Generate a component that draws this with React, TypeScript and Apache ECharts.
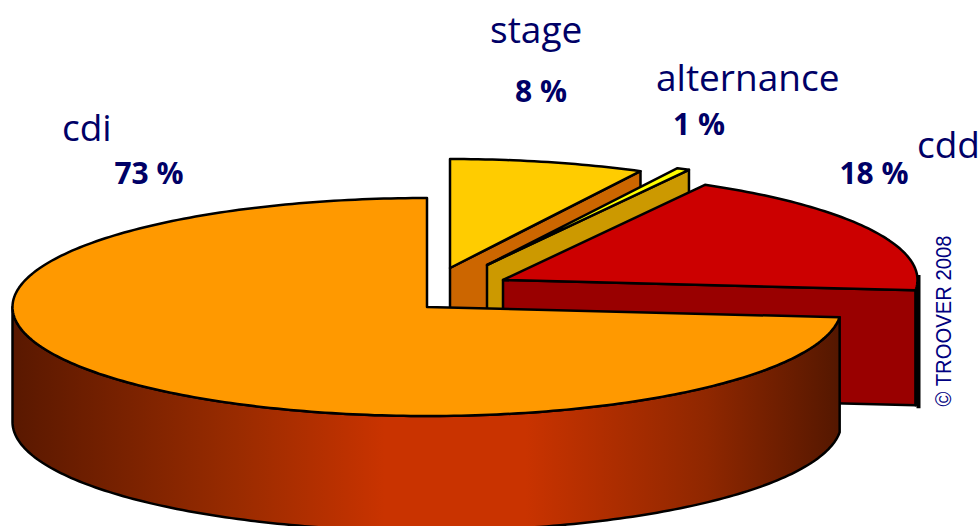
import React, { useEffect, useRef } from "react";
import * as echarts from "echarts";

const categories = ["stage", "alternance", "cdd", "cdi"];
const values = [7.6, 0.5, 18.4, 73.5];
const percentLabels = ["8 %", "1 %", "18 %", "73 %"];
const topColors = ["#FFCC00", "#FFFF00", "#CC0000", "#FF9900"];
const faceColors = ["#CC6600", "#CC9900", "#990000", "#990000"];
const explodeX = [22, 59, 75, -1];
const explodeY = [-39, -42, -27, 0];
const nameX = [490, 656, 917, 62];
const nameY = [28, 76, 143, 126];
const pctX = [541, 699, 874, 149];
const pctY = [90, 123, 172, 172];
const copyright = "© TROOVER 2008";

const CX = 428;
const CY = 307;
const RX = 414.5;
const RY = 109;
const DEPTH = 115;
const total = values.reduce((s, v) => s + v, 0);
const rad = (d: number) => (d * Math.PI) / 180;

const sideGradient = () =>
  new echarts.graphic.LinearGradient(0, 0, 1, 0, [
    { offset: 0, color: "#591800" },
    { offset: 0.27, color: "#992B00" },
    { offset: 0.45, color: "#C93300" },
    { offset: 0.62, color: "#C93300" },
    { offset: 0.84, color: "#8F2700" },
    { offset: 1, color: "#541700" },
  ]);

const renderSlice = (params: any, api: any) => {
  const i = params.dataIndex;
  const before = values.slice(0, i).reduce((s, v) => s + v, 0);
  const a = (before / total) * 360;
  const b = a + (api.value(0) / total) * 360;
  const cx = CX + explodeX[i];
  const cy = CY + explodeY[i];
  const P = (t: number, d = 0) => [cx + RX * Math.sin(rad(t)), cy - RY * Math.cos(rad(t)) + d];
  const arc = (s: number, e: number, d = 0) => {
    const pts: number[][] = [];
    const n = Math.max(2, Math.ceil(Math.abs(e - s)));
    for (let k = 0; k <= n; k++) pts.push(P(s + ((e - s) * k) / n, d));
    return pts;
  };
  const stroke = { stroke: "#000", lineWidth: 2.5, lineJoin: "round" };
  const children: any[] = [];
  if (b < 180) {
    children.push({
      type: "polygon",
      shape: { points: [[cx, cy], P(b), P(b, DEPTH), [cx, cy + DEPTH]] },
      style: { fill: faceColors[i], ...stroke },
    });
  }
  const s = Math.max(a, 90);
  const e = Math.min(b, 270);
  if (e > s) {
    children.push({
      type: "polygon",
      shape: { points: [...arc(s, e), ...arc(e, s, DEPTH)] },
      style: { fill: i === 3 ? sideGradient() : faceColors[i], ...stroke },
    });
  }
  if (i === 2) {
    children.push({
      type: "line",
      shape: { x1: cx + RX + 1, y1: cy - 5, x2: cx + RX + 1, y2: P(b, DEPTH)[1] + 3 },
      style: { stroke: "#000", lineWidth: 4 },
    });
  }
  children.push({
    type: "polygon",
    shape: { points: [[cx, cy], ...arc(a, b)] },
    style: { fill: topColors[i], ...stroke },
  });
  return { type: "group", children };
};

export default function App() {
  const ref = useRef<HTMLDivElement>(null);
  useEffect(() => {
    const chart = echarts.init(ref.current!, null, { renderer: "svg" });
    const texts: any[] = [];
    categories.forEach((c, i) => {
      texts.push({
        type: "text",
        x: nameX[i],
        y: nameY[i],
        style: {
          text: c,
          font: '37px "Open Sans"',
          fill: "#000066",
          textVerticalAlign: "middle",
        },
      });
      texts.push({
        type: "text",
        x: pctX[i],
        y: pctY[i],
        style: {
          text: percentLabels[i],
          font: 'bold 30px "Open Sans"',
          fill: "#000066",
          textAlign: "center",
          textVerticalAlign: "middle",
        },
      });
    });
    texts.push({
      type: "text",
      x: 943,
      y: 321,
      rotation: Math.PI / 2,
      scaleX: 0.92,
      style: {
        text: copyright,
        font: '22px "Liberation Sans"',
        fill: "#000080",
        textAlign: "center",
        textVerticalAlign: "middle",
      },
    });
    chart.setOption({
      animation: false,
      backgroundColor: "#fff",
      graphic: texts,
      series: [
        {
          type: "custom",
          coordinateSystem: "none",
          renderItem: renderSlice,
          data: values.map((v, i) => ({ name: categories[i], value: [v] })),
          silent: true,
        },
      ],
    });
    return () => chart.dispose();
  }, []);
  return (
    <div
      ref={ref}
      style={{ position: "absolute", left: 0, top: 0, width: 980, height: 526, overflow: "hidden" }}
    />
  );
}
